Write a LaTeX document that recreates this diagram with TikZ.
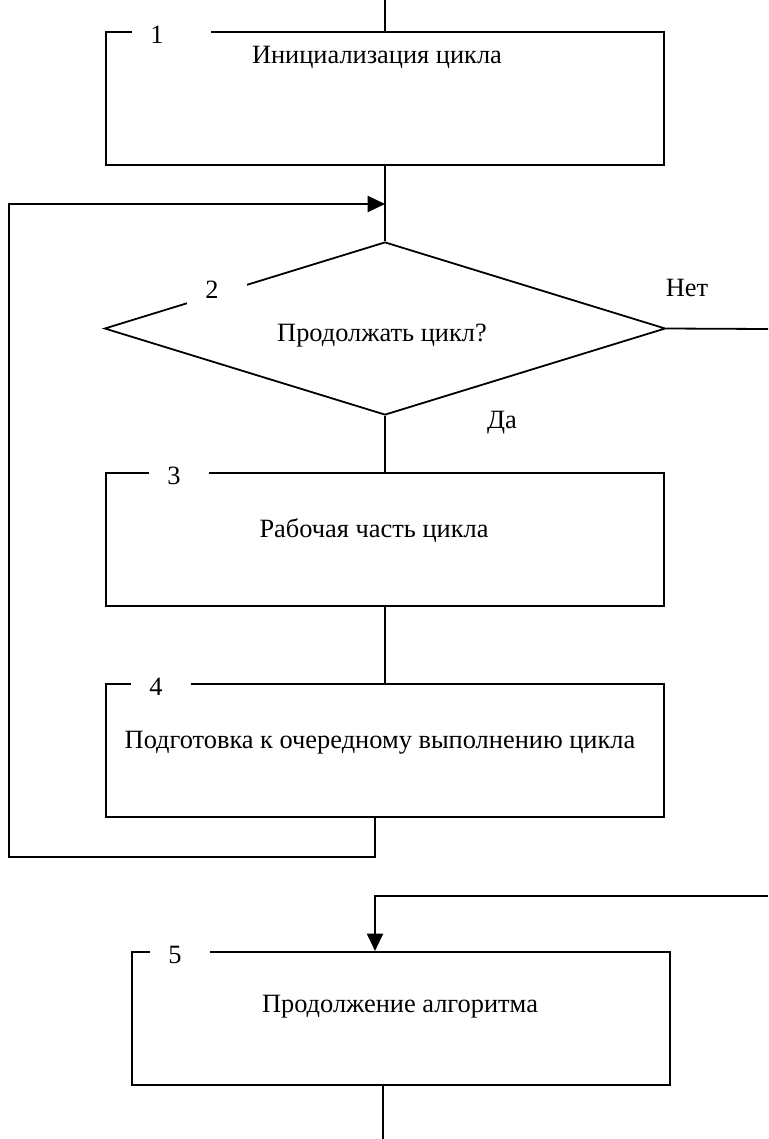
\documentclass[tikz,border=0pt]{standalone}
\usepackage{fontspec}
\setmainfont{Liberation Serif}
\usetikzlibrary{shapes.geometric,arrows.meta,positioning}

\tikzset{
	blok/.style={draw, line width=1.35pt, minimum width=418.5pt, minimum height=100pt, inner sep=0pt},
	uslovie/.style={draw, diamond, line width=1.35pt, aspect=3.24, minimum width=420.75pt, minimum height=129.75pt, inner sep=0pt},
	nomer/.style={fill=white, anchor=west, inner xsep=13.5pt, inner ysep=5pt, text width=#1, align=left},
	nomer/.default=18pt,
	tekst/.style={inner sep=1pt},
	svyaz/.style={line width=1.35pt},
	strelka/.style={line width=1.6pt, -{Triangle[length=13pt,width=12pt]}}
}

\begin{document}
\begin{tikzpicture}[x=0.75pt, y=-0.75pt, font=\fontsize{19.8pt}{23pt}\selectfont]
	\useasboundingbox (0,0) rectangle (768,1139);
	
	% blocks of the cycle
	\node[blok] (b1) at (385,98.5) {};
	\node[nomer=32pt] (n1) at (132,35) {1};
	\node[tekst] (t1) at (377,57) {Инициализация цикла};
	
	\node[uslovie] (d2) at (385,328.5) {};
	\node[nomer] (n2) at (187,290) {2};
	\node[tekst] (t2) at (382,336) {Продолжать цикл?};
	\node[tekst] (net) at (687,288) {Нет};
	\node[tekst] (da) at (502,423) {Да};
	
	\node[blok] (b3) at (385,539.5) {};
	\node[nomer] (n3) at (149,476) {3};
	\node[tekst] (t3) at (374,531) {Рабочая часть цикла};
	
	\node[blok] (b4) at (385,750.5) {};
	\node[nomer] (n4) at (131,687) {4};
	\node[tekst] (t4) at (380,743) {Подготовка к очередному выполнению цикла};
	
	\node[blok, minimum width=403.5pt] (b5) at (401,1018.5) {};
	\node[nomer] (n5) at (150,955) {5};
	\node[tekst] (t5) at (400,1007) {Продолжение алгоритма};
	
	% connectors
	\coordinate (vhod) at (385,0);
	\coordinate (sliyanie) at (385,204);
	\coordinate (niz4) at (375,857);
	\coordinate (lev) at (9,857);
	\coordinate (vyhod) at (768,329);
	\coordinate (vozvrat) at (768,896);
	\coordinate (konec) at (383,1139);
	
	\draw[svyaz] (vhod) -- (b1.north);
	\draw[svyaz] (b1.south) -- (d2.north);
	\draw[svyaz] (d2.south) -- (b3.north);
	\draw[svyaz] (b3.south) -- (b4.north);
	\draw[strelka] (b4.south -| niz4) -- (niz4) -- (lev) |- (sliyanie);
	\draw[svyaz] (d2.east) -- (vyhod);
	\draw[strelka] (vozvrat) -| (b5.north -| niz4);
	\draw[svyaz] (b5.south -| konec) -- (konec);
\end{tikzpicture}
\end{document}
